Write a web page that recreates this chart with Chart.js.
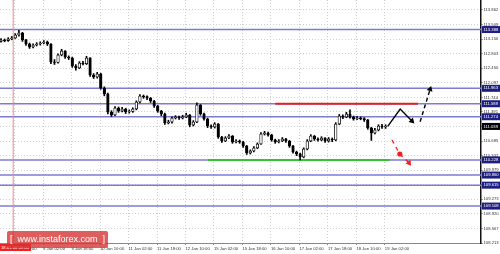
<!DOCTYPE html>
<html>
<head>
<meta charset="utf-8">
<script src="https://cdn.jsdelivr.net/npm/chart.js@4"></script>
<style>
  html, body { margin: 0; padding: 0; background: #fff; }
  #wrap { position: relative; width: 500px; height: 254px; }
  #logo {
    position: absolute; left: 7px; top: 231px; width: 101px; height: 17px;
    background: rgba(214, 52, 52, 0.8); border-radius: 2px;
    color: #fff; font: 9px "Liberation Sans", Arial, sans-serif;
    line-height: 17px; text-align: center; white-space: nowrap;
  }
</style>
</head>
<body>
<div id="wrap">
  <canvas id="chart" width="500" height="254"></canvas>
  <div id="logo">[ &nbsp;www.instaforex.com&nbsp; ]</div>
</div>
<script>
// H1 candles grouped in 2h slots
const closes = [113.134, 113.120, 113.159, 113.183, 113.256, 113.304, 113.134, 113.037, 112.965, 113.013,
  113.037, 113.062, 113.086, 113.037, 112.601, 112.590, 112.771, 112.868, 112.722, 112.698,
  112.504, 112.456, 112.577, 112.560, 112.698, 112.286, 112.237, 112.310, 111.971, 111.825,
  111.389, 111.316, 111.486, 111.413, 111.462, 111.389, 111.400, 111.462, 111.631, 111.777,
  111.760, 111.728, 111.656, 111.534, 111.413, 111.340, 111.122, 111.146, 111.243, 111.268,
  111.243, 111.268, 111.316, 111.074, 111.146, 111.559, 111.340, 111.219, 111.050, 111.025,
  111.098, 110.783, 110.686, 110.759, 110.807, 110.662, 110.686, 110.662, 110.565, 110.395,
  110.443, 110.516, 110.613, 110.856, 110.880, 110.831, 110.710, 110.662, 110.686, 110.734,
  110.686, 110.565, 110.419, 110.371, 110.298, 110.492, 110.686, 110.807, 110.734, 110.710,
  110.759, 110.686, 110.734, 110.710, 111.098, 111.292, 111.268, 111.340, 111.268, 111.219,
  111.243, 111.230, 111.195, 111.001, 110.880, 110.953, 111.050, 111.025, 111.039];
const highs = [113.170, 113.160, 113.190, 113.220, 113.290, 113.370, 113.320, 113.150, 113.060, 113.040,
  113.070, 113.090, 113.120, 113.110, 113.050, 112.660, 112.800, 112.910, 112.880, 112.750,
  112.720, 112.540, 112.610, 112.620, 112.740, 112.710, 112.320, 112.350, 112.330, 112.000,
  111.850, 111.420, 111.520, 111.510, 111.500, 111.480, 111.440, 111.490, 111.660, 111.810,
  111.800, 111.780, 111.740, 111.670, 111.550, 111.430, 111.360, 111.190, 111.270, 111.300,
  111.290, 111.310, 111.360, 111.330, 111.180, 111.610, 111.570, 111.360, 111.240, 111.080,
  111.130, 111.110, 110.800, 110.790, 110.840, 110.820, 110.720, 110.710, 110.680, 110.580,
  110.470, 110.550, 110.640, 110.890, 110.920, 110.900, 110.850, 110.730, 110.720, 110.770,
  110.750, 110.700, 110.580, 110.440, 110.390, 110.520, 110.720, 110.840, 110.820, 110.760,
  110.790, 110.770, 110.770, 110.760, 111.130, 111.330, 111.320, 111.380, 111.440, 111.290,
  111.280, 111.270, 111.250, 111.210, 111.020, 110.990, 111.080, 111.090, 111.080];
const lows = [113.080, 113.090, 113.100, 113.140, 113.170, 113.230, 113.100, 113.000, 112.930, 112.940,
  112.990, 113.010, 113.040, 113.000, 112.560, 112.540, 112.570, 112.750, 112.690, 112.660,
  112.470, 112.400, 112.440, 112.530, 112.540, 112.250, 112.200, 112.210, 111.940, 111.780,
  111.340, 111.280, 111.300, 111.380, 111.390, 111.350, 111.360, 111.380, 111.440, 111.610,
  111.720, 111.690, 111.620, 111.500, 111.380, 111.300, 111.090, 111.100, 111.120, 111.220,
  111.210, 111.220, 111.250, 111.030, 111.050, 111.130, 111.310, 111.190, 111.010, 110.990,
  111.000, 110.750, 110.650, 110.670, 110.740, 110.630, 110.640, 110.630, 110.530, 110.360,
  110.370, 110.420, 110.500, 110.600, 110.830, 110.800, 110.680, 110.630, 110.640, 110.670,
  110.650, 110.530, 110.390, 110.330, 110.225, 110.280, 110.470, 110.670, 110.700, 110.680,
  110.690, 110.650, 110.660, 110.670, 110.690, 111.080, 111.230, 111.250, 111.240, 111.190,
  111.200, 111.200, 111.160, 110.970, 110.700, 110.860, 110.930, 110.990, 110.990];
const firstOpen = 113.100;

const yTicks = [113.862, 113.509, 113.156, 112.803, 112.450, 112.097, 111.744, 111.391, 111.038,
  110.685, 110.332, 109.979, 109.626, 109.273, 108.920, 108.567, 108.213];
const dateLabels = ['8 Jan 10:00', '9 Jan 02:00', '9 Jan 18:00', '10 Jan 10:00', '11 Jan 02:00',
  '11 Jan 18:00', '12 Jan 10:00', '15 Jan 02:00', '15 Jan 18:00', '16 Jan 10:00', '17 Jan 02:00',
  '17 Jan 18:00', '18 Jan 10:00', '19 Jan 02:00'];

// horizontal levels (blue) and the last price
const levels = [113.388, 111.963, 111.589, 111.274, 110.228, 109.860, 109.615, 109.108];
const lastPrice = 111.039;

// drawn objects: [slot, price]
const resistance = [[77.0, 111.589], [117.1, 111.589]];
const support = [[58.1, 110.228], [109.2, 110.228]];
const bounceUp = [[108.6, 111.039], [112.1, 111.462], [115.4, 111.171]];
const breakUp = [[117.7, 111.154], [120.5, 111.939]];
const dropDown = [[109.8, 110.710], [112.0, 110.371], [114.6, 110.153]];
const markerSlot = 3.4;
const markerText = '18.01.08 09:00';

const X_MIN = -0.3, X_MAX = 134.8, Y_MIN = 108.213, Y_MAX = 114.104;
const FONT = '"Liberation Sans", Arial, sans-serif';
Chart.defaults.font.family = FONT;

const opens = closes.map((c, i) => (i === 0 ? firstOpen : closes[i - 1]));
const pts = (arr) => arr.map(([x, y]) => ({ x, y }));

function levelLine(v) {
  return {
    type: 'line', order: 5,
    data: [{ x: X_MIN, y: v }, { x: X_MAX, y: v }],
    borderColor: '#7c7cd2', borderWidth: 1.5, pointRadius: 0, pointHoverRadius: 0,
  };
}

const tagPlugin = {
  id: 'tags',
  afterDraw(chart) {
    const { ctx, chartArea, scales } = chart;
    const y = scales.y;
    const x = scales.x;
    ctx.save();
    ctx.font = '4.2px ' + FONT;
    ctx.textBaseline = 'middle';
    const tag = (v, bg) => {
      const py = y.getPixelForValue(v);
      ctx.fillStyle = bg;
      ctx.fillRect(chartArea.right + 1, py - 3.5, 500 - chartArea.right - 1, 7);
      ctx.fillStyle = '#fff';
      ctx.fillText(v.toFixed(3), chartArea.right + 2.5, py);
    };
    levels.forEach((v) => tag(v, '#1e1e80'));
    tag(lastPrice, '#000');

    // time marker label under the red vertical line
    const px = Math.max(0, x.getPixelForValue(markerSlot) - 14);
    ctx.fillStyle = '#ee2222';
    ctx.fillRect(px, chartArea.bottom + 1, 31, 7);
    ctx.fillStyle = '#fff';
    ctx.fillText(markerText, px + 1, chartArea.bottom + 4.5);
    ctx.restore();
  },
};

new Chart(document.getElementById('chart'), {
  type: 'bar',
  data: {
    datasets: [
      {
        order: 0, grouped: false, barThickness: 2.6,
        data: closes.map((c, i) => ({ x: i, y: [opens[i], c] })),
        backgroundColor: closes.map((c, i) => (c >= opens[i] ? '#fff' : '#000')),
        borderColor: '#000', borderWidth: 0.8, borderSkipped: false,
      },
      {
        order: 1, grouped: false, barThickness: 1,
        data: closes.map((c, i) => ({ x: i, y: [lows[i], highs[i]] })),
        backgroundColor: '#000',
      },
      ...levels.map(levelLine),
      {
        type: 'line', order: 4,
        data: [{ x: markerSlot, y: Y_MIN }, { x: markerSlot, y: Y_MAX }],
        borderColor: '#f08c8c', borderWidth: 1, pointRadius: 0, pointHoverRadius: 0,
      },
      {
        type: 'line', order: 3, data: pts(resistance),
        borderColor: '#e41e1e', borderWidth: 2, pointRadius: 0, pointHoverRadius: 0,
      },
      {
        type: 'line', order: 3, data: pts(support),
        borderColor: '#33c233', borderWidth: 2, pointRadius: 0, pointHoverRadius: 0,
      },
      {
        type: 'line', order: 2, data: pts(bounceUp),
        borderColor: '#000', borderWidth: 1.4,
        pointRadius: [0, 0, 3.5], pointStyle: 'triangle', pointRotation: [0, 0, 135],
        pointBackgroundColor: '#000', pointBorderWidth: 0,
      },
      {
        type: 'line', order: 2, data: pts(breakUp),
        borderColor: '#000', borderWidth: 1.4, borderDash: [4, 3],
        pointRadius: [0, 3.5], pointStyle: 'triangle', pointRotation: [0, 17],
        pointBackgroundColor: '#000', pointBorderWidth: 0,
      },
      {
        type: 'line', order: 2, data: pts(dropDown),
        borderColor: '#f02020', borderWidth: 1.4, borderDash: [4, 4],
        pointRadius: [0, 2.6, 3.5], pointStyle: ['circle', 'circle', 'triangle'],
        pointRotation: [0, 0, 143],
        pointBackgroundColor: '#f02020', pointBorderWidth: 0,
      },
    ],
  },
  options: {
    responsive: false,
    animation: false,
    events: [],
    layout: { padding: 0, autoPadding: false },
    plugins: { legend: { display: false }, tooltip: { enabled: false } },
    scales: {
      x: {
        type: 'linear', min: X_MIN, max: X_MAX, offset: false,
        afterBuildTicks: (s) => { s.ticks = dateLabels.map((l, k) => ({ value: 3.8 + 8 * k })); },
        afterFit: (s) => { s.height = 11; s.paddingLeft = 0; s.paddingRight = 0; },
        ticks: {
          autoSkip: false, maxRotation: 0, minRotation: 0, align: 'start', padding: 1,
          color: '#333', font: { size: 4.2 },
          callback: (v, i) => dateLabels[i],
        },
        grid: { color: '#cfcfcf', tickLength: 2, tickColor: '#888', offset: false },
        border: { color: '#888', dash: [1, 2] },
      },
      y: {
        position: 'right', min: Y_MIN, max: Y_MAX,
        afterBuildTicks: (s) => { s.ticks = yTicks.map((v) => ({ value: v })); },
        afterFit: (s) => { s.width = 19; s.paddingTop = 0; s.paddingBottom = 0; },
        ticks: {
          padding: 1, color: '#333', font: { size: 4.2 },
          callback: (v) => Number(v).toFixed(3),
        },
        grid: { color: '#cfcfcf', tickLength: 1.5, tickColor: '#555' },
        border: { color: '#111', width: 1.5, dash: [1, 2] },
      },
    },
  },
  plugins: [tagPlugin],
});
</script>
</body>
</html>
